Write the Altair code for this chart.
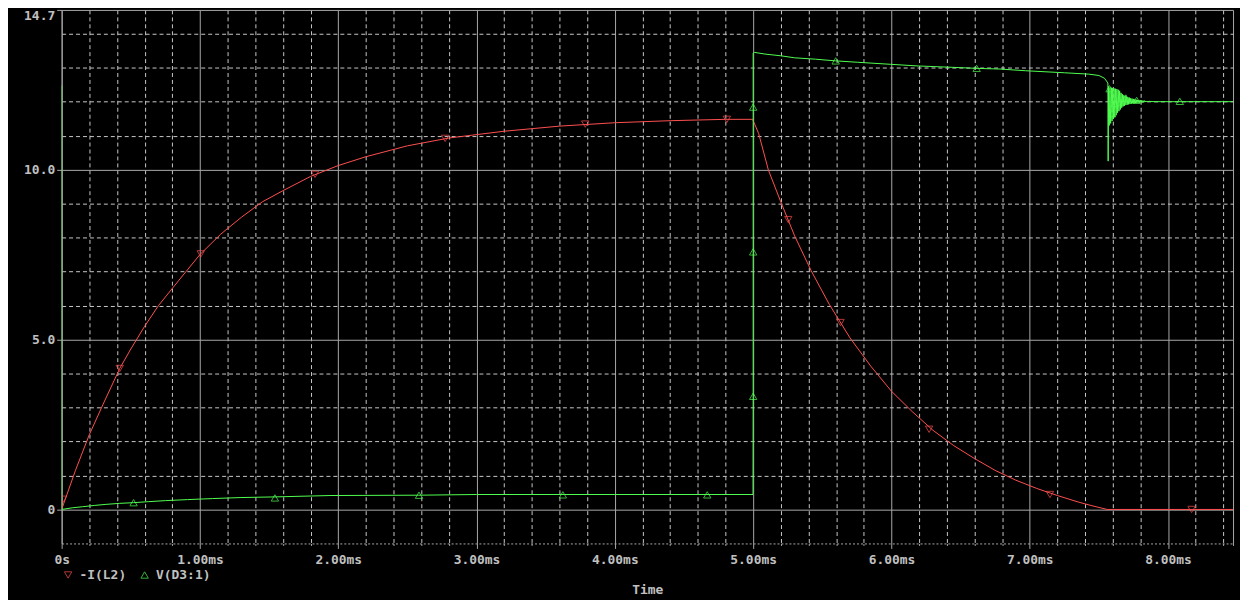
import altair as alt
import pandas as pd

# ---- data ----
SERIES = ["-I(L2)", "V(D3:1)"]
COLORS = ["#ff5050", "#50ff50"]
SHAPES = ["triangle-down", "triangle-up"]

# -I(L2)  (ms, value)
red_t = [0.0, 0.1, 0.2, 0.3, 0.42, 0.5, 0.6, 0.7, 0.845, 1.0, 1.15, 1.3, 1.45, 1.6,
         1.8, 2.0, 2.2, 2.5, 2.8, 3.2, 3.6, 4.0, 4.4, 4.8, 4.996,
         5.04, 5.11, 5.20, 5.30, 5.42, 5.55, 5.70, 5.85, 6.00, 6.15, 6.30, 6.45,
         6.60, 6.75, 6.90, 7.05, 7.20, 7.35, 7.45, 7.56, 8.47]
red_v = [0.0, 1.15, 2.2, 3.1, 4.15, 4.72, 5.39, 6.0, 6.73, 7.5, 8.1, 8.6, 9.05, 9.38,
         9.8, 10.12, 10.38, 10.7, 10.93, 11.13, 11.28, 11.38, 11.44, 11.48, 11.48,
         11.06, 9.99, 9.05, 8.05, 7.02, 6.04, 5.05, 4.22, 3.48, 2.88, 2.33, 1.88,
         1.50, 1.15, 0.86, 0.62, 0.41, 0.22, 0.11, 0.0, 0.0]

# V(D3:1)
grn_t = [0.0, 0.0, 0.08, 0.15, 0.24, 0.32, 0.42, 0.52, 0.63, 0.75, 0.91, 1.09, 1.29,
         1.55, 1.94, 2.58, 3.0, 4.0, 4.999, 5.0, 5.0, 5.0, 5.0, 5.01, 5.086, 5.2,
         5.30, 5.45, 5.597, 5.753, 5.991, 6.193, 6.444, 6.615, 6.785, 6.97, 7.25,
         7.426, 7.50, 7.54, 7.565, 7.567,
         7.570, 7.575, 7.580, 7.585, 7.590, 7.595, 7.600, 7.605, 7.610, 7.615,
         7.620, 7.625, 7.630, 7.635, 7.640, 7.645, 7.650, 7.655, 7.660, 7.665,
         7.670, 7.675, 7.680, 7.685, 7.690, 7.695, 7.700, 7.705, 7.710, 7.715,
         7.720, 7.725, 7.730, 7.735, 7.740, 7.745, 7.750, 7.755, 7.760, 7.765,
         7.770, 7.775, 7.780, 7.785, 7.790, 7.795, 7.800, 7.805, 7.810, 7.815,
         7.820, 7.825, 7.830, 7.835, 7.840, 7.845, 7.850, 7.855, 7.860,
         7.90, 8.47]
grn_v = [12.48, 0.0, 0.05, 0.08, 0.12, 0.15, 0.18, 0.20, 0.23, 0.26, 0.29, 0.32, 0.35,
         0.37, 0.41, 0.42, 0.44, 0.44, 0.44, 3.33, 7.58, 11.84, 13.43, 13.45, 13.40,
         13.35, 13.29, 13.25, 13.20, 13.16, 13.10, 13.05, 13.01, 12.98, 12.96, 12.91,
         12.85, 12.81, 12.77, 12.69, 12.55, 10.25,
         12.45, 11.30, 12.42, 11.36, 12.41, 11.43, 12.40, 11.49, 12.39, 11.54,
         12.38, 11.60, 12.37, 11.67, 12.35, 11.72, 12.32, 11.77, 12.26, 11.82,
         12.22, 11.86, 12.19, 11.88, 12.17, 11.90, 12.15, 11.91, 12.13, 11.92,
         12.12, 11.93, 12.10, 11.94, 12.09, 11.95, 12.08, 11.95, 12.07, 11.96,
         12.06, 11.96, 12.05, 11.97, 12.05, 11.97, 12.04, 11.98, 12.04, 11.98,
         12.03, 11.98, 12.03, 11.99, 12.02, 11.99, 12.02, 11.99, 12.01,
         12.0, 12.0]

# marker positions
red_mk_t = [0.01, 0.42, 1.006, 1.832, 2.773, 3.786, 4.81, 5.254, 5.632, 6.272, 7.146, 8.17]
red_mk_v = [0.30, 4.15, 7.52, 9.86, 10.92, 11.34, 11.48, 8.53, 5.50, 2.36, 0.44, 0.0]
grn_mk_t = [0.52, 1.542, 2.584, 3.624, 4.668, 5.0, 5.0, 5.0, 5.597, 6.616,
            7.577, 7.594, 7.614, 7.652, 7.695, 7.773, 8.085]
grn_mk_v = [0.20, 0.34, 0.42, 0.43, 0.43, 3.33, 7.58, 11.84, 13.20, 12.98,
            12.38, 11.65, 11.94, 11.99, 12.11, 12.04, 12.01]

x_ticks = [round(0.2 * k, 1) for k in range(0, 43)] + [8.47]
y_ticks = list(range(0, 15)) + [14.7]

# ---- tables ----
lines = pd.concat([
    pd.DataFrame({"t": red_t, "v": red_v, "series": SERIES[0], "seq": range(len(red_t))}),
    pd.DataFrame({"t": grn_t, "v": grn_v, "series": SERIES[1], "seq": range(len(grn_t))}),
], ignore_index=True)
marks = pd.concat([
    pd.DataFrame({"t": red_mk_t, "v": red_mk_v, "series": SERIES[0]}),
    pd.DataFrame({"t": grn_mk_t, "v": grn_mk_v, "series": SERIES[1]}),
], ignore_index=True)

TXT = "#c0c0c0"
SOLID = "#a8a8a8"
DASH = "#c8c8c8"
FONT = "DejaVu Sans Mono"

x_major = "abs(datum.value - round(datum.value)) < 0.001"
x_edge = f"({x_major}) || datum.value > 8.45"
x_axis = alt.Axis(
    values=x_ticks,
    labelExpr=f"({x_major}) ? (datum.value == 0 ? '0s' : format(datum.value, '.2f') + 'ms') : ''",
    labelFont=FONT, labelFontSize=13, labelFontWeight="bold", labelColor=TXT,
    labelPadding=5, labelOverlap=False, labelFlush=False,
    tickColor=SOLID,
    tickSize={"condition": {"test": x_major, "value": 5}, "value": 2},
    grid=True,
    gridColor={"condition": {"test": x_edge, "value": SOLID}, "value": DASH},
    gridDash={"condition": {"test": x_edge, "value": []}, "value": [4, 3]},
    gridWidth=1,
    domainColor=SOLID, domainDash=[2, 2], domainWidth=1,
    title="Time", titleFont=FONT, titleFontSize=13, titleFontWeight="bold", titleColor=TXT,
    titleBaseline="alphabetic", titleY=50,
)
y_major = "datum.value == 0 || datum.value == 5 || datum.value == 10 || datum.value > 14.6"
y_axis = alt.Axis(
    values=y_ticks,
    labelExpr=f"datum.value == 0 ? '0' : (({y_major}) ? format(datum.value, '.1f') : '')",
    labelFont=FONT, labelFontSize=13, labelFontWeight="bold", labelColor=TXT,
    labelPadding=2, labelOverlap=False, labelFlush=False,
    labelBaseline={"condition": {"test": "datum.value > 14.6", "value": "top"}, "value": "middle"},
    tickColor=SOLID,
    tickSize={"condition": {"test": y_major, "value": 5}, "value": 0},
    grid=True,
    gridColor={"condition": {"test": y_major, "value": SOLID}, "value": DASH},
    gridDash={"condition": {"test": y_major, "value": []}, "value": [4, 3]},
    gridWidth=1,
    domainColor=SOLID, domainWidth=1,
    title=None,
)

xenc = alt.X("t:Q", scale=alt.Scale(domain=[0, 8.47], nice=False, zero=False), axis=x_axis)
yenc = alt.Y("v:Q", scale=alt.Scale(domain=[-1.0, 14.7], nice=False, zero=False), axis=y_axis)
cscale = alt.Scale(domain=SERIES, range=COLORS)
sscale = alt.Scale(domain=SERIES, range=SHAPES)

leg = alt.Legend(
    title=None, orient="none", legendX=0, legendY=562, direction="horizontal",
    labelFont=FONT, labelFontSize=13, labelFontWeight="bold", labelColor=TXT,
    symbolSize=55, symbolStrokeWidth=1, labelOffset=5, columnPadding=12, padding=0,
)

line_layer = alt.Chart(lines).mark_line(strokeWidth=1, clip=True).encode(
    x=xenc, y=yenc,
    color=alt.Color("series:N", scale=cscale, legend=leg),
    order=alt.Order("seq:Q"),
)
point_layer = alt.Chart(marks).mark_point(filled=False, size=55, strokeWidth=1, clip=True).encode(
    x=xenc, y=yenc,
    color=alt.Color("series:N", scale=cscale, legend=leg),
    shape=alt.Shape("series:N", scale=sscale, legend=leg),
)

chart = alt.layer(line_layer, point_layer).properties(
    width=1179, height=537,
    autosize=alt.AutoSizeParams(type="none"),
    padding={"left": 54, "top": 0, "right": 7, "bottom": 55},
    background="#000000",
).configure_view(stroke=None)

chart.save("out.html", embed_options={"renderer": "svg", "actions": False})
